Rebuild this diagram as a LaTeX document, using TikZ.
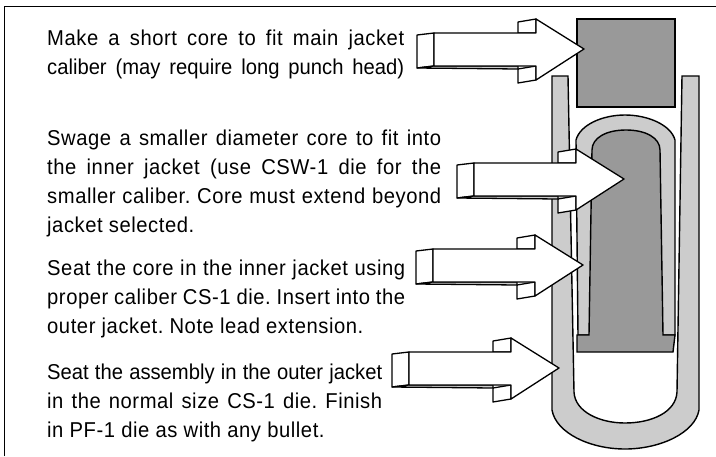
\documentclass[tikz,border=0pt]{standalone}
\usepackage{fontspec}
\setmainfont[FakeStretch=0.94]{Liberation Sans}
\newfontfamily\trackedfont[FakeStretch=0.94,LetterSpace=2.6]{Liberation Sans}
\usetikzlibrary{positioning}
\definecolor{jacketgray}{RGB}{204,204,204}
\definecolor{coregray}{RGB}{153,153,153}
\newcommand{\tightline}[2]{\makebox[#1][s]{\normalfont\fontsize{21.5}{29}\selectfont #2}}

\begin{document}
\begin{tikzpicture}[
    x=1pt, y=-1pt,
    outline/.style={draw=black, line width=1.4pt, line join=miter},
    jacket/.style={outline, fill=jacketgray},
    core/.style={outline, fill=coregray},
    face/.style={draw=black, line width=1.3pt, fill=white, line join=round},
    note/.style={anchor=base west, inner sep=0pt, font=\trackedfont\fontsize{21.5}{29}\selectfont\frenchspacing, align=justify}
]
\useasboundingbox (0,0) rectangle (716,456);

% frame
\draw[line width=1pt] (4.5,456) -- (4.5,6) -- (716,6);

% outer jacket
\draw[jacket] (552,76) -- (568,76) -- (574,392) .. controls (575,412) and (600,423) .. (625,423)
    .. controls (652,423) and (676,412) .. (677,392) -- (682,76) -- (699,76) -- (699,410)
    .. controls (695,433) and (660,449) .. (625,449) .. controls (590,449) and (556,433) .. (552,410) -- cycle;

% inner jacket and core
\draw[jacket] (576,140) .. controls (580,125) and (602,115) .. (625,115) .. controls (648,115) and (671,125) .. (675,140)
    -- (675,335) -- (578,335) -- cycle;
\draw[core] (592,150) .. controls (592,138) and (606,130) .. (626,130) .. controls (646,130) and (660,138) .. (660,150)
    -- (663,335) -- (675,335) -- (673,352) -- (577,352) -- (577,335) -- (589,335) -- cycle;

% short core
\draw[core] (577,19) rectangle (675,107);

% arrows
\foreach \tipx/\tipy in {584/49, 624/179, 583/265, 559/368} {
  \begin{scope}[shift={(\tipx,\tipy)}]
    \draw[face] (-66,-27) -- (-48,-30) -- (-48,-16) -- (-66,-16) -- cycle;
    \draw[face] (-66,20) -- (-48,17) -- (-48,31) -- (-66,34) -- cycle;
    \draw[face] (-167,-14) -- (-150,-16) -- (-150,17) -- (-167,19) -- cycle;
    \draw[draw=black, line width=1.3pt, fill=jacketgray] (-167,19) -- (-150,17) -- (-66,17) -- (-66,20) -- cycle;
    \draw[face] (-150,-16) -- (-48,-16) -- (-48,-30) -- (0,0) -- (-48,31) -- (-48,17) -- (-150,17) -- cycle;
  \end{scope}
}

% notes
\node[note, text width=357pt] (make) at (47,45) {Make a short core to fit main jacket\break
\tightline{357pt}{caliber (may require long punch head)}};
\node[note, text width=394pt] (swage) at (47,145) {Swage a smaller diameter core to fit into\break
the inner jacket (use CSW-1 die for the\break
smaller caliber. Core must extend beyond\break
jacket selected.};
\node[note, text width=358pt] (seat) at (47,275) {Seat the core in the inner jacket using\break
proper caliber CS-1 die. Insert into the\break
outer jacket. Note lead extension.};
\node[note, text width=335pt] (assembly) at (47,379) {\tightline{335pt}{Seat the assembly in the outer jacket}\break
in the normal size CS-1 die. Finish\break
in PF-1 die as with any bullet.};
\end{tikzpicture}
\end{document}
